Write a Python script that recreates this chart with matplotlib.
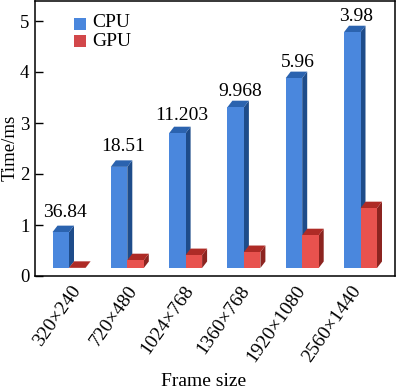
import matplotlib
matplotlib.use("Agg")
import matplotlib.pyplot as plt
from matplotlib.patches import Rectangle

plt.rcParams['font.family'] = ['Liberation Serif', 'DejaVu Serif']

categories = ['320×240', '720×480', '1024×768', '1360×768', '1920×1080', '2560×1440']
cpu_values = [0.86, 2.14, 2.80, 3.31, 3.88, 4.78]
gpu_values = [0.16, 0.31, 0.41, 0.47, 0.80, 1.33]
cpu_labels = ['36.84', '18.51', '11.203', '9.968', '5.96', '3.98']
label_gaps = [9, 9, 7, 5, 5, 5]
yticks = [0, 1, 2, 3, 4, 5]

W, H = 400, 389
fig = plt.figure(figsize=(4, 3.89), dpi=100)
L, R, T, B = 35, 395, 1, 276
ax = fig.add_axes([L / W, 1 - B / H, (R - L) / W, (B - T) / H])
PX_X = 58.3
PX_Y = 51.0
ax.set_xlim((L - 69) / PX_X, (R - 69) / PX_X)
ax.set_ylim(0, (B - T) / PX_Y)

width = 16.5 / PX_X
depth_x = 5 / PX_X
depth_y = 6.5 / PX_Y
base = 8 / PX_Y


def bar3d(x0, v, front, side, top, z):
    x1 = x0 + width
    ax.fill([x1, x1 + depth_x, x1 + depth_x, x1],
            [base, base + depth_y, v + depth_y, v], color=side, lw=0, zorder=z)
    ax.fill([x0, x0 + depth_x, x1 + depth_x, x1],
            [v, v + depth_y, v + depth_y, v], color=top, lw=0, zorder=z)
    ax.bar(x0, v - base, width, bottom=base, align='edge', color=front, lw=0, zorder=z + 0.1)


for i, (c, g) in enumerate(zip(cpu_values, gpu_values)):
    bar3d(i - width, c, '#4A87DD', '#1E4C8A', '#2B63AF', 2)
    bar3d(i, g, '#E8524E', '#8C2420', '#AE2B26', 3)
    ax.annotate(cpu_labels[i], xy=(i - 0.07, c + depth_y), xytext=(0, label_gaps[i] * 0.72),
                textcoords='offset points', ha='center', va='baseline', fontsize=14, zorder=5)

ax.set_xticks([i * 56 / PX_X + 0.03 for i in range(len(categories))])
ax.set_xticklabels(categories, rotation=55, ha='right', va='top',
                   rotation_mode='anchor', fontsize=14)
ax.tick_params(axis='x', length=0, pad=4.5)
ax.set_yticks(yticks)
ax.tick_params(axis='y', direction='in', length=5.5, width=1, labelsize=13.5, pad=4)
for s in ax.spines.values():
    s.set_linewidth(1.1)

# legend
ax.add_patch(Rectangle((74 / W, 1 - 30 / H), 12 / W, 12 / H, transform=fig.transFigure,
                       color='#4A87DD', lw=0, zorder=6))
ax.add_patch(Rectangle((74 / W, 1 - 47 / H), 12 / W, 11.5 / H, transform=fig.transFigure,
                       color='#D2474A', lw=0, zorder=6))
fig.text(92 / W, 1 - 22.5 / H, 'CPU', fontsize=14, ha='left', va='center')
fig.text(92 / W, 1 - 42 / H, 'GPU', fontsize=14, ha='left', va='center')

fig.text(10 / W, 1 - 148 / H, 'Time/ms', rotation=90, fontsize=13.5, ha='center', va='center')
fig.text(204 / W, 1 - 381 / H, 'Frame size', fontsize=14, ha='center', va='center')

fig.savefig('out.png', dpi=100)
